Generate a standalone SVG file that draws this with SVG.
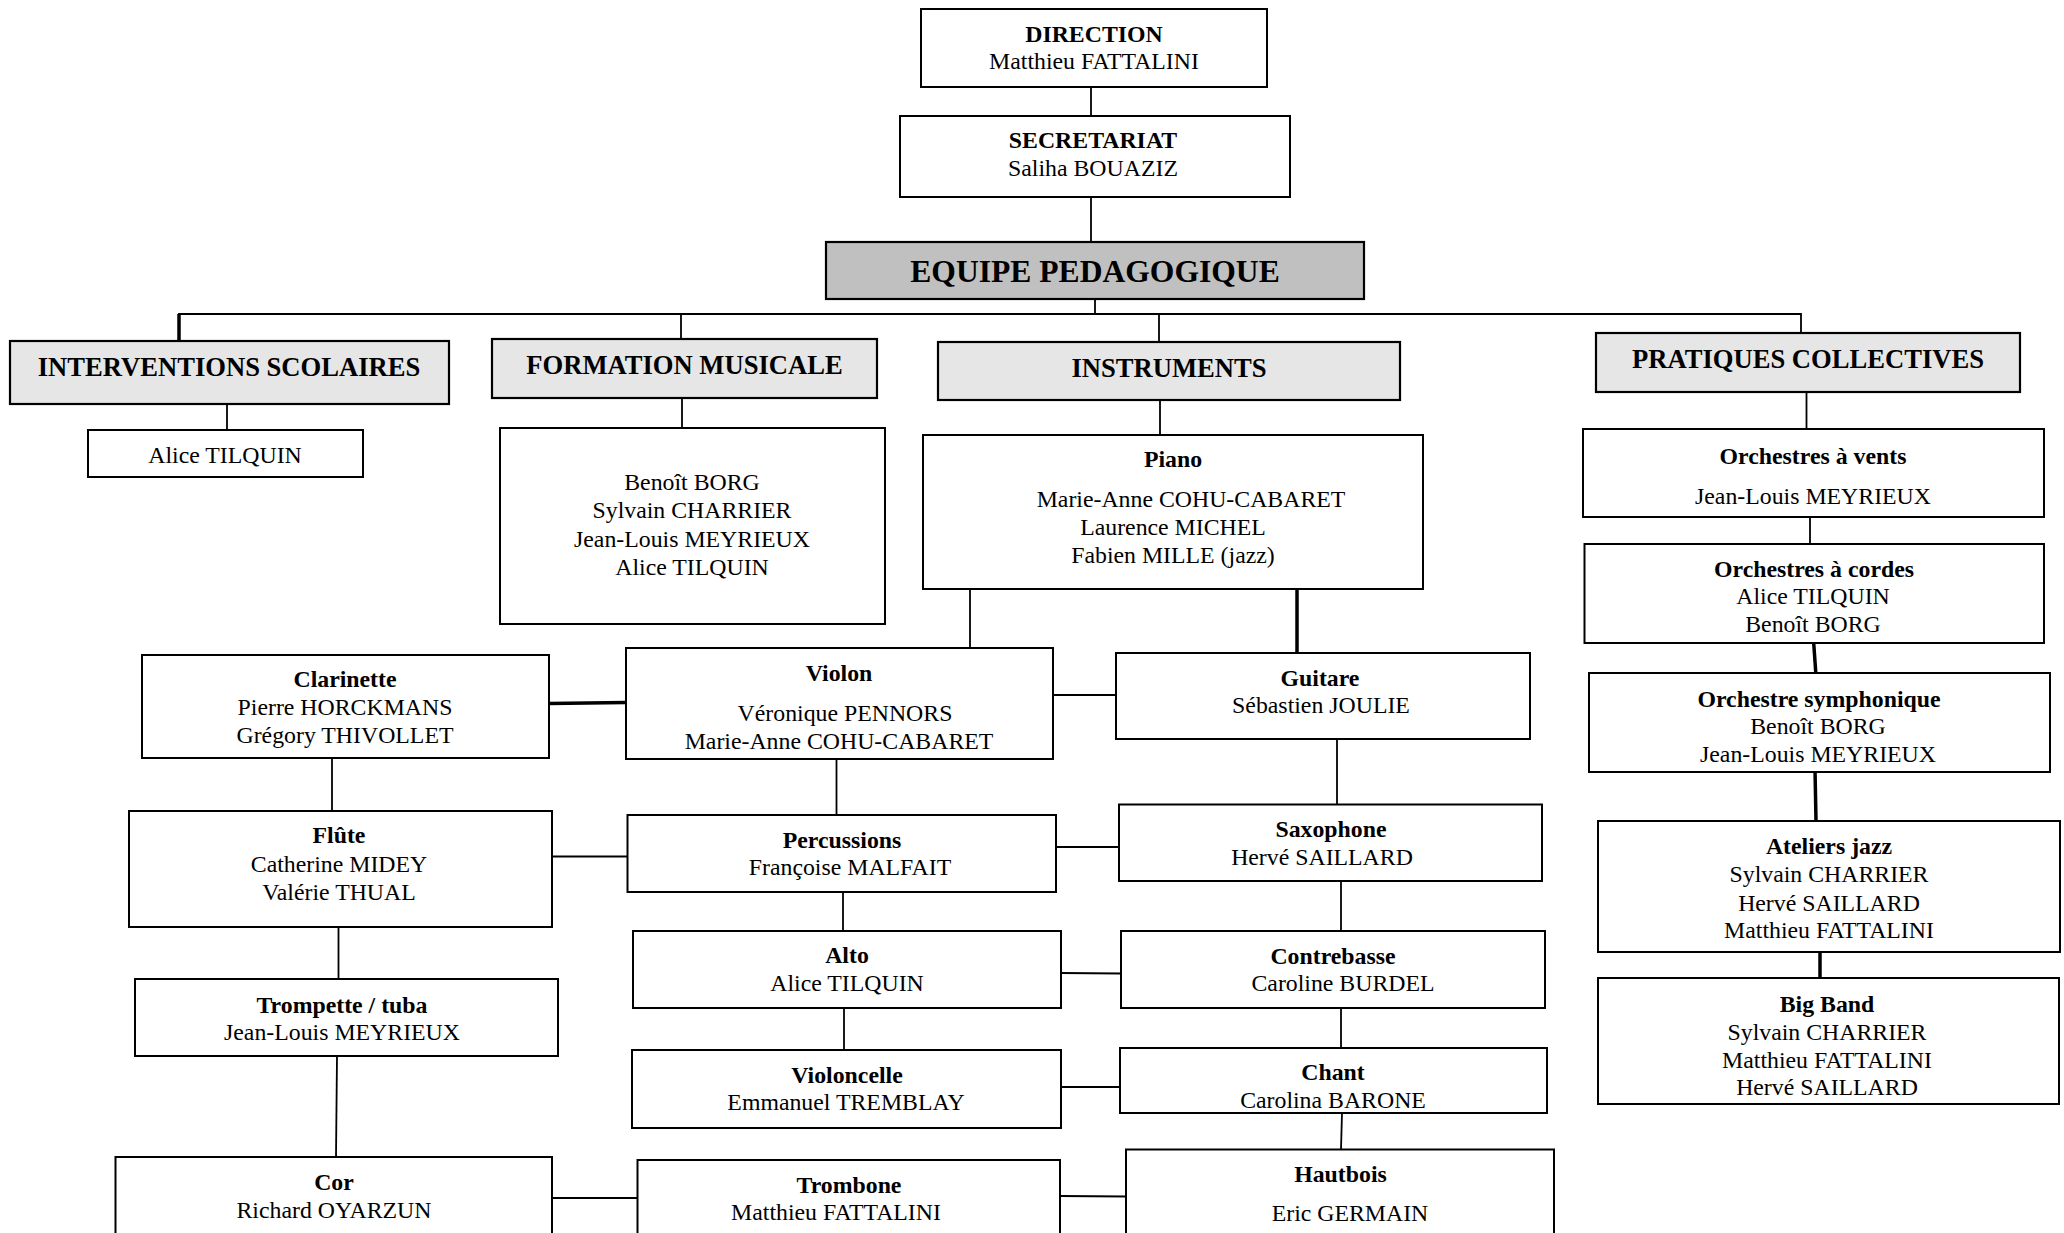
<svg xmlns="http://www.w3.org/2000/svg" width="2064" height="1233" viewBox="0 0 2064 1233">
<style>
.bx{fill:#fff;stroke:#000;stroke-width:2}
.hd{fill:#e6e6e6;stroke:#000;stroke-width:2.2}
.eq{fill:#c0c0c0;stroke:#000;stroke-width:2.2}
text{font-family:"Liberation Serif","Times New Roman",serif;font-size:23.8px;text-anchor:middle;fill:#000}
.b{font-weight:bold}
.h{font-size:26.6px;font-weight:bold}
.big{font-size:31.6px;font-weight:bold}
.c{fill:none;stroke:#000;stroke-width:1.8}
.k{fill:none;stroke:#000;stroke-width:3.5}
</style>
<rect width="2064" height="1233" fill="#fff"/>
<g id="connectors">
<line class="c" x1="1091" y1="87" x2="1091" y2="116"/>
<line class="c" x1="1091" y1="197" x2="1091" y2="242"/>
<line class="c" x1="1095" y1="299" x2="1095" y2="314"/>
<polyline class="c" points="179,340 179,314 1801,314 1801,333"/>
<line class="k" x1="179" y1="314" x2="179" y2="340"/>
<line class="c" x1="681" y1="314" x2="681" y2="339"/>
<line class="c" x1="1159" y1="314" x2="1159" y2="342"/>
<line class="c" x1="227" y1="404" x2="227" y2="430"/>
<line class="c" x1="682" y1="398" x2="682" y2="428"/>
<line class="c" x1="1160" y1="400" x2="1160" y2="435"/>
<line class="c" x1="970" y1="587" x2="970" y2="648"/>
<line class="k" x1="1297" y1="587" x2="1297" y2="653"/>
<line class="k" x1="549" y1="703.5" x2="626" y2="702.5"/>
<line class="c" x1="1053" y1="695" x2="1117" y2="695"/>
<line class="c" x1="332" y1="758" x2="332" y2="811"/>
<line class="c" x1="836.5" y1="759" x2="836.5" y2="815"/>
<line class="c" x1="1337" y1="739" x2="1337" y2="804.5"/>
<line class="c" x1="552" y1="856.5" x2="627.5" y2="856.5"/>
<line class="c" x1="1056" y1="847" x2="1119" y2="847"/>
<line class="c" x1="338.5" y1="927" x2="338.5" y2="979"/>
<line class="c" x1="843" y1="892" x2="843" y2="931"/>
<line class="c" x1="1341" y1="881" x2="1341" y2="931"/>
<line class="c" x1="1061" y1="973" x2="1121" y2="973.5"/>
<line class="c" x1="844" y1="1008" x2="844" y2="1050"/>
<line class="c" x1="1341" y1="1008" x2="1341" y2="1048"/>
<line class="c" x1="1061" y1="1087" x2="1120" y2="1087"/>
<line class="c" x1="337" y1="1056" x2="336" y2="1157"/>
<line class="c" x1="1342" y1="1113" x2="1341" y2="1149.5"/>
<line class="c" x1="552" y1="1198" x2="638" y2="1198"/>
<line class="c" x1="1060" y1="1196" x2="1126" y2="1196.5"/>
<line class="c" x1="1806.5" y1="392" x2="1806.5" y2="429"/>
<line class="c" x1="1810" y1="517" x2="1810" y2="544"/>
<line class="k" x1="1813.7" y1="643" x2="1815.8" y2="673"/>
<line class="k" x1="1815" y1="769" x2="1816" y2="821"/>
<line class="k" x1="1820" y1="952" x2="1820" y2="978"/>
</g>
<g id="direction">
<rect class="bx" x="921" y="9" width="346" height="78"/>
<text class="b" x="1094" y="42">DIRECTION</text>
<text x="1094" y="69">Matthieu FATTALINI</text>
</g>
<g id="secretariat">
<rect class="bx" x="900" y="116" width="390" height="81"/>
<text class="b" x="1093" y="148">SECRETARIAT</text>
<text x="1093" y="176">Saliha BOUAZIZ</text>
</g>
<g id="equipe">
<rect class="eq" x="826" y="242" width="538" height="57"/>
<text class="big" x="1095" y="282">EQUIPE PEDAGOGIQUE</text>
</g>
<g id="interventions">
<rect class="hd" x="10" y="341" width="439" height="63"/>
<text class="h" x="229" y="376">INTERVENTIONS SCOLAIRES</text>
</g>
<g id="interventions-names">
<rect class="bx" x="88" y="430" width="275" height="47"/>
<text x="225" y="463">Alice TILQUIN</text>
</g>
<g id="formation">
<rect class="hd" x="492" y="339" width="385" height="59"/>
<text class="h" x="684.5" y="374">FORMATION MUSICALE</text>
</g>
<g id="formation-names">
<rect class="bx" x="500" y="428" width="385" height="196"/>
<text x="692" y="490">Benoît BORG</text>
<text x="692" y="518">Sylvain CHARRIER</text>
<text x="692" y="547">Jean-Louis MEYRIEUX</text>
<text x="692" y="575">Alice TILQUIN</text>
</g>
<g id="instruments">
<rect class="hd" x="938" y="342" width="462" height="58"/>
<text class="h" x="1169" y="377">INSTRUMENTS</text>
</g>
<g id="piano">
<rect class="bx" x="923" y="435" width="500" height="154"/>
<text class="b" x="1173" y="467">Piano</text>
<text x="1191" y="507">Marie-Anne COHU-CABARET</text>
<text x="1173" y="535">Laurence MICHEL</text>
<text x="1173" y="563">Fabien MILLE (jazz)</text>
</g>
<g id="pratiques">
<rect class="hd" x="1596" y="333" width="424" height="59"/>
<text class="h" x="1808" y="368">PRATIQUES COLLECTIVES</text>
</g>
<g id="orchestres-vents">
<rect class="bx" x="1583" y="429" width="461" height="88"/>
<text class="b" x="1813" y="464">Orchestres à vents</text>
<text x="1813" y="504">Jean-Louis MEYRIEUX</text>
</g>
<g id="orchestres-cordes">
<rect class="bx" x="1584.5" y="544" width="459.5" height="99"/>
<text class="b" x="1814" y="577">Orchestres à cordes</text>
<text x="1813" y="604">Alice TILQUIN</text>
<text x="1813" y="632">Benoît BORG</text>
</g>
<g id="orchestre-symphonique">
<rect class="bx" x="1589" y="673" width="461" height="99"/>
<text class="b" x="1819" y="707">Orchestre symphonique</text>
<text x="1818" y="734">Benoît BORG</text>
<text x="1818" y="762">Jean-Louis MEYRIEUX</text>
</g>
<g id="ateliers-jazz">
<rect class="bx" x="1598" y="821" width="462" height="131"/>
<text class="b" x="1829" y="854">Ateliers jazz</text>
<text x="1829" y="882">Sylvain CHARRIER</text>
<text x="1829" y="911">Hervé SAILLARD</text>
<text x="1829" y="938">Matthieu FATTALINI</text>
</g>
<g id="big-band">
<rect class="bx" x="1598" y="978" width="461" height="126"/>
<text class="b" x="1827" y="1012">Big Band</text>
<text x="1827" y="1040">Sylvain CHARRIER</text>
<text x="1827" y="1068">Matthieu FATTALINI</text>
<text x="1827" y="1095">Hervé SAILLARD</text>
</g>
<g id="clarinette">
<rect class="bx" x="142" y="655" width="407" height="103"/>
<text class="b" x="345" y="687">Clarinette</text>
<text x="345" y="714.5">Pierre HORCKMANS</text>
<text x="345" y="743">Grégory THIVOLLET</text>
</g>
<g id="flute">
<rect class="bx" x="129" y="811" width="423" height="116"/>
<text class="b" x="339" y="843">Flûte</text>
<text x="339" y="871.5">Catherine MIDEY</text>
<text x="339" y="899.5">Valérie THUAL</text>
</g>
<g id="trompette">
<rect class="bx" x="135" y="979" width="423" height="77"/>
<text class="b" x="342" y="1012.5">Trompette / tuba</text>
<text x="342" y="1040">Jean-Louis MEYRIEUX</text>
</g>
<g id="cor">
<rect class="bx" x="115.5" y="1157" width="436.5" height="90"/>
<text class="b" x="334" y="1190">Cor</text>
<text x="334" y="1217.5">Richard OYARZUN</text>
</g>
<g id="violon">
<rect class="bx" x="626" y="648" width="427" height="111"/>
<text class="b" x="839" y="681">Violon</text>
<text x="845" y="720.5">Véronique PENNORS</text>
<text x="839" y="748.5">Marie-Anne COHU-CABARET</text>
</g>
<g id="percussions">
<rect class="bx" x="627.5" y="815" width="428.5" height="77"/>
<text class="b" x="842" y="848">Percussions</text>
<text x="850" y="874.5">Françoise MALFAIT</text>
</g>
<g id="alto">
<rect class="bx" x="633" y="931" width="428" height="77"/>
<text class="b" x="847" y="963">Alto</text>
<text x="847" y="990.5">Alice TILQUIN</text>
</g>
<g id="violoncelle">
<rect class="bx" x="632" y="1050" width="429" height="78"/>
<text class="b" x="847" y="1082.5">Violoncelle</text>
<text x="846" y="1110">Emmanuel TREMBLAY</text>
</g>
<g id="trombone">
<rect class="bx" x="637.5" y="1160" width="422.5" height="90"/>
<text class="b" x="849" y="1193">Trombone</text>
<text x="836" y="1219.5">Matthieu FATTALINI</text>
</g>
<g id="guitare">
<rect class="bx" x="1116" y="653" width="414" height="86"/>
<text class="b" x="1320" y="686">Guitare</text>
<text x="1321" y="712.5">Sébastien JOULIE</text>
</g>
<g id="saxophone">
<rect class="bx" x="1119" y="804.5" width="423" height="76.5"/>
<text class="b" x="1331" y="836.5">Saxophone</text>
<text x="1322" y="865">Hervé SAILLARD</text>
</g>
<g id="contrebasse">
<rect class="bx" x="1121" y="931" width="424" height="77"/>
<text class="b" x="1333" y="963.5">Contrebasse</text>
<text x="1343" y="990.5">Caroline BURDEL</text>
</g>
<g id="chant">
<rect class="bx" x="1120" y="1048" width="427" height="65"/>
<text class="b" x="1333" y="1079.5">Chant</text>
<text x="1333" y="1108">Carolina BARONE</text>
</g>
<g id="hautbois">
<rect class="bx" x="1126" y="1149.5" width="428" height="100"/>
<text class="b" x="1340.5" y="1181.5">Hautbois</text>
<text x="1350" y="1220.5">Eric GERMAIN</text>
</g>
</svg>
